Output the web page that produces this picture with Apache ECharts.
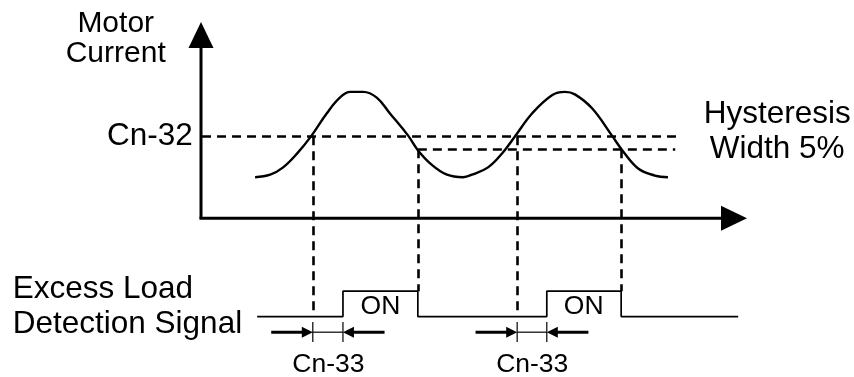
<!DOCTYPE html>
<html><head><meta charset="utf-8">
<script src="https://cdn.jsdelivr.net/npm/echarts@6/dist/echarts.min.js"></script>
<style>html,body{margin:0;padding:0;background:#fff}#c{width:854px;height:377px}</style>
</head><body><div id="c"></div>
<script>
// ---- data (time units on x, current units on y; Cn-32 level = 100) ----
const currentCurve = [[10.4,50],[13.3,53],[15.8,62],[18.5,79],[21.3,101],[24.2,128],[26.7,147],[28.7,154],[31.2,154],[33.8,147],[36.3,128],[39.8,101],[41.7,83],[44.4,65],[47.3,53],[50.4,50],[52.1,53],[55.2,62],[57.9,79],[60.4,100],[63.7,128],[67.5,150],[70.0,154],[71.9,151],[75.2,134],[79.0,101],[81.0,83],[84.0,61],[87.3,52],[89.8,50]];
const cn32Level = 100;
const hysteresisLevel = 84;
const cn32Span = [0.2, 91.7];
const hysteresisSpan = [41.7, 91.2];
const upCrossings = [21.5, 60.8];
const downCrossings = [41.7, 80.8];
const signalRises = [27.3, 66.5];
const signalLow = -120;
const signalHigh = -89;
const signalSpan = [10.8, 103.3];
const upDropEnd = -113;
const dimRow = -139;
const dimTick = [-126.6, -151];
const dimArrowLen = 8;
const axisEnds = { xTip: 105, yTip: 239.3 };
const textLabels = ['Motor\nCurrent', 'Cn-32', 'Hysteresis\nWidth 5%', 'Excess Load\nDetection Signal', 'ON', 'ON', 'Cn-33', 'Cn-33'];
const textAnchors = [[-16.4,219],[-1.6,100],[110.8,105.5],[-36.2,-107.5],[34.5,-107.5],[73.6,-107.5],[24.5,-178.5],[63.7,-178.5]];

// ---- build derived series data ----
const signalData = [[signalSpan[0], signalLow]];
for (let i = 0; i < signalRises.length; i++) {
  signalData.push([signalRises[i], signalLow], [signalRises[i], signalHigh], [downCrossings[i], signalHigh], [downCrossings[i], signalLow]);
}
signalData.push([signalSpan[1], signalLow]);

const dashedSegs = [
  [cn32Span[0], cn32Level, cn32Span[1], cn32Level],
  [hysteresisSpan[0], hysteresisLevel, hysteresisSpan[1], hysteresisLevel]
];
upCrossings.forEach(t => dashedSegs.push([t, cn32Level, t, upDropEnd]));
downCrossings.forEach(t => dashedSegs.push([t, hysteresisLevel, t, signalHigh]));

const thinSegs = [];
const dimArrows = [];
for (let i = 0; i < upCrossings.length; i++) {
  const a = upCrossings[i], b = signalRises[i];
  thinSegs.push([a, dimTick[0], a, dimTick[1]], [b, dimTick[0], b, dimTick[1]], [a, dimRow, b, dimRow]);
  dimArrows.push([a - dimArrowLen, dimRow, a, dimRow], [b + dimArrowLen, dimRow, b, dimRow]);
}
const axisArrows = [[-0.3, 0, axisEnds.xTip, 0], [0, 0, 0, axisEnds.yTip]];

// ---- renderers ----
function arrowRenderer(lineWidth, headLen, headWidth) {
  return function (params, api) {
    const a = api.coord([api.value(0), api.value(1)]);
    const b = api.coord([api.value(2), api.value(3)]);
    const dx = b[0] - a[0], dy = b[1] - a[1];
    const len = Math.hypot(dx, dy);
    const ux = dx / len, uy = dy / len;
    const bx = b[0] - ux * headLen, by = b[1] - uy * headLen;
    const nx = -uy, ny = ux;
    return { type: 'group', children: [
      { type: 'line', shape: { x1: a[0], y1: a[1], x2: bx + ux * 2, y2: by + uy * 2 }, style: { stroke: '#000', lineWidth: lineWidth } },
      { type: 'polygon', shape: { points: [[b[0], b[1]], [bx + nx * headWidth / 2, by + ny * headWidth / 2], [bx - nx * headWidth / 2, by - ny * headWidth / 2]] }, style: { fill: '#000' } }
    ]};
  };
}
function segRenderer(lineWidth) {
  return function (params, api) {
    const a = api.coord([api.value(0), api.value(1)]);
    const b = api.coord([api.value(2), api.value(3)]);
    return { type: 'line', shape: { x1: a[0], y1: a[1], x2: b[0], y2: b[1] },
      style: { stroke: '#000', lineWidth: lineWidth } };
  };
}
const FONT = '"Liberation Sans", Arial, Helvetica, sans-serif';
const textStyles = [
  { size: 30, align: 'center', lh: 30.5 },
  { size: 31.5, align: 'right', lh: 34 },
  { size: 31.5, align: 'center', lh: 35 },
  { size: 31.5, align: 'left', lh: 35 },
  { size: 26.5, align: 'center', lh: 28 },
  { size: 26.5, align: 'center', lh: 28 },
  { size: 26.5, align: 'center', lh: 28 },
  { size: 26.5, align: 'center', lh: 28 }
];
function textRenderer(params, api) {
  const p = api.coord([api.value(0), api.value(1)]);
  const s = textStyles[params.dataIndex];
  return { type: 'text', x: p[0], y: p[1], style: {
    text: textLabels[params.dataIndex], fill: '#000', fontSize: s.size, fontFamily: FONT,
    align: s.align, verticalAlign: 'middle', lineHeight: s.lh } };
}

const chart = echarts.init(document.getElementById('c'), null, { renderer: 'canvas' });
chart.setOption({
  animation: false,
  backgroundColor: '#fff',
  grid: { left: 201, right: 107, top: 5, bottom: 3, containLabel: false },
  xAxis: { type: 'value', min: 0, max: 105, show: false },
  yAxis: { type: 'value', min: -190, max: 260, show: false },
  series: [
    { type: 'line', data: currentCurve, smooth: 0.4, showSymbol: false, silent: true, clip: false,
      lineStyle: { color: '#000', width: 2.4 } },
    { type: 'line', data: signalData, showSymbol: false, silent: true, clip: false,
      lineStyle: { color: '#000', width: 1.7 } },
    { type: 'lines', coordinateSystem: 'cartesian2d', silent: true,
      data: dashedSegs.map(s => ({ coords: [[s[0], s[1]], [s[2], s[3]]] })),
      lineStyle: { color: '#000', width: 2.6, type: [9, 6], opacity: 1 } },
    { type: 'custom', data: thinSegs, renderItem: segRenderer(1.2), silent: true, clip: false },
    { type: 'custom', data: dimArrows, renderItem: arrowRenderer(3, 11, 11), silent: true, clip: false },
    { type: 'custom', data: axisArrows, renderItem: arrowRenderer(3, 26, 25), silent: true, clip: false },
    { type: 'custom', data: textAnchors, renderItem: textRenderer, silent: true, clip: false }
  ]
});
</script></body></html>
